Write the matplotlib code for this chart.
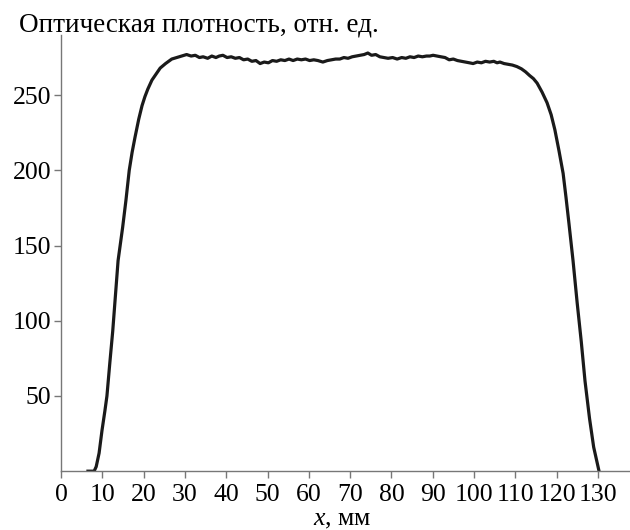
import matplotlib
matplotlib.use('Agg')
import matplotlib.pyplot as plt

# профиль оптической плотности
x_mm = [6.5, 8.0, 8.5, 9.2, 9.9, 10.6, 11.1, 11.8, 12.5, 13.2, 13.8, 14.4, 14.9,
        15.7, 16.5, 17.2, 17.9, 18.8, 19.6, 20.3, 21.0, 22.0, 23.0, 24.0, 25.3,
        26.8, 28.0, 29.2, 30.4, 31.5, 32.5, 33.5, 34.4, 35.5, 36.5, 37.5, 38.3,
        39.2, 40.2, 41.2, 42.2, 43.2, 44.2, 45.2, 46.2, 47.2, 48.2, 49.2, 50.2,
        51.2, 52.2, 53.2, 54.2, 55.2, 56.2, 57.2, 58.2, 59.2, 60.2, 61.2, 62.2,
        63.4, 64.5, 65.5, 66.5, 67.5, 68.5, 69.5, 70.5, 71.5, 72.5, 73.4, 74.3,
        75.2, 76.2, 77.2, 78.2, 79.2, 80.3, 81.4, 82.5, 83.5, 84.5, 85.5, 86.5,
        87.5, 88.5, 89.3, 90.1, 91.0, 92.0, 93.0, 94.0, 95.0, 96.0, 97.0, 98.0,
        98.9, 99.8, 100.8, 101.8, 102.8, 103.8, 104.8, 105.6, 106.3, 107.3, 108.3,
        109.3, 110.4, 111.5, 112.5, 113.5, 114.4, 115.3, 116.5, 117.7, 118.7,
        119.6, 120.6, 121.6, 122.3, 123.0, 124.0, 125.0, 126.0, 126.9, 128.0,
        129.0, 130.3]
density = [0, 0, 3, 12, 27, 40, 50, 72, 93, 118, 140, 152, 162,
           180, 200, 212, 222, 234, 243, 249, 254, 260, 264, 268, 271,
           274, 275, 276, 277, 276, 276.5, 275, 275.5, 274.5, 276, 275, 276,
           276.5, 275, 275.5, 274.5, 275, 273.5, 274, 272.5, 273, 271, 272, 271.5,
           273, 272.5, 273.5, 273, 274, 273, 274, 273.5, 274, 273, 273.5, 273,
           272, 273, 273.5, 274, 274, 275, 274.5, 275.5, 276, 276.5, 277, 278,
           276.5, 277, 275.5, 275, 274.5, 275, 274, 275, 274.5, 275.5, 275, 276,
           275.5, 276, 276, 276.5, 276, 275.5, 275, 273.5, 274, 273, 272.5, 272,
           271.5, 271, 272, 271.5, 272.5, 272, 272.5, 271.5, 272, 271, 270.5,
           270, 269, 267.5, 265.5, 263, 261, 258, 252, 245, 237,
           227, 213, 198, 182, 165, 140, 112, 86, 60, 35,
           16, 0]

x_ticks = list(range(0, 131, 10))
y_ticks = [50, 100, 150, 200, 250]

plt.rcParams['font.family'] = ['Liberation Serif', 'DejaVu Serif']
plt.rcParams['mathtext.fontset'] = 'custom'
plt.rcParams['mathtext.it'] = 'Liberation Serif:italic'
plt.rcParams['mathtext.rm'] = 'Liberation Serif'

fig = plt.figure(figsize=(6.3, 5.3), dpi=100)
ax = fig.add_axes([0.097, 0.111, 0.903, 0.823])

ax.plot(x_mm, density, color='#1a1a1a', lw=2.3)

ax.set_xlim(0, 137.8)
ax.set_ylim(0, 290)
ax.set_xticks(x_ticks)
ax.set_yticks(y_ticks)
ax.tick_params(labelsize=18.5, length=5, width=1, color='#777777', pad=2)
ax.tick_params(axis='x', pad=4)
for s in ['top', 'right']:
    ax.spines[s].set_visible(False)
for s in ['left', 'bottom']:
    ax.spines[s].set_color('#777777')
    ax.spines[s].set_linewidth(1)

fig.text(0.543, 0.008, '$x$, мм', fontsize=18.5, va='baseline', ha='center')
fig.text(0.03, 0.94, 'Оптическая плотность, отн. ед.', fontsize=19.5, va='baseline', ha='left')

fig.savefig('out.png', dpi=100)
